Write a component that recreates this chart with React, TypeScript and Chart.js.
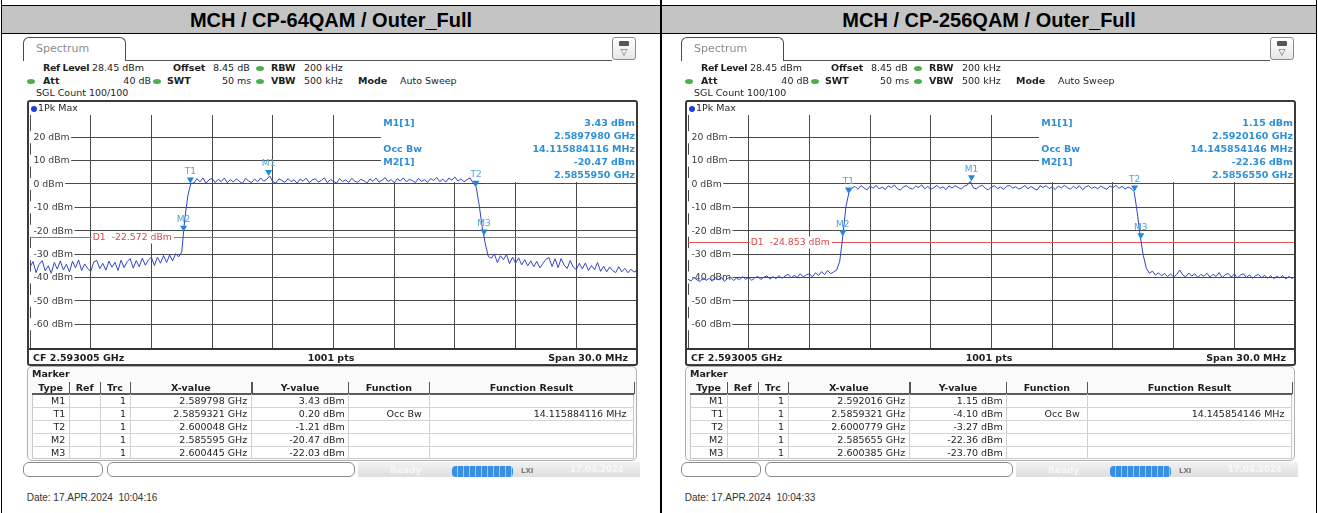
import React, { useEffect, useRef } from 'react';
import { Chart, registerables } from 'chart.js';

Chart.register(...registerables);

const UI_FONT = '"DejaVu Sans", Verdana, sans-serif';
const DOC_FONT = '"Liberation Sans", Arial, sans-serif';

const FREQ_START_MHZ = 2578.005;
const FREQ_STEP_MHZ = 0.15;
const SPAN_MHZ = 30;
const X_DIVISIONS = 10;
const Y_TICKS = [20, 10, 0, -10, -20, -30, -40, -50, -60];
const Y_MAX = 29.5;
const Y_MIN = -70.6;

const panelTitles = ['MCH / CP-64QAM / Outer_Full', 'MCH / CP-256QAM / Outer_Full'];
const panelDates = ['Date: 17.APR.2024  10:04:16', 'Date: 17.APR.2024  10:04:33'];
const markerNames = ['M1', 'T1', 'T2', 'M2', 'M3'];
const markerFreqGHz64 = [2.589798, 2.5859321, 2.600048, 2.585595, 2.600445];
const markerLevel64 = [3.43, 0.2, -1.21, -20.47, -22.03];
const markerFreqGHz256 = [2.592016, 2.5859321, 2.6000779, 2.585655, 2.600385];
const markerLevel256 = [1.15, -4.1, -3.27, -22.36, -23.7];
const displayLine64 = -22.572;
const displayLine256 = -24.853;
const occBw64 = '14.115884116';
const occBw256 = '14.145854146';

// Trace levels (dBm), one value every 0.15 MHz from 2.578005 GHz
const trace64 = [
  -35.5, -33.2, -37.9, -34.4, -32.8, -37.1, -35.0, -38.2, -33.6, -36.4,
  -32.9, -36.8, -34.3, -37.6, -33.1, -35.9, -32.5, -37.0, -34.2, -36.1,
  -37.5, -33.4, -32.7, -36.2, -34.0, -36.9, -33.0, -35.6, -33.5, -37.0,
  -32.6, -35.8, -33.3, -31.9, -36.0, -32.8, -35.4, -31.7, -34.8, -32.5,
  -31.4, -34.9, -31.3, -33.9, -30.6, -33.6, -30.4, -32.9, -29.8, -31.2,
  -29.0, -15.0, -5.0, 0.2,
  0.4, 2.3, 0.9, 2.6, 0.3, 1.8, 2.4, 0.6, 2.0, 1.0,
  2.5, 0.5, 1.9, 0.8, 2.2, 1.1, 0.2, 2.4, 1.3, 0.6,
  2.1, 0.9, 2.6, 1.2, 2.0, 3.43, 1.0, 0.4, 2.2, 1.5,
  0.7, 2.3, 1.0, 1.8, 0.3, 2.1, 1.2, 2.5, 0.6, 1.7,
  2.2, 0.8, 1.5, 2.6, 0.5, 1.9, 1.1, 0.4, 2.3, 1.0,
  1.8, 0.6, 2.4, 1.2, 0.7, 2.0, 1.4, 0.3, 2.2, 1.1,
  2.5, 0.8, 1.6, 2.7, 1.0, 1.9, 0.5, 2.2, 1.3, 2.6,
  0.9, 2.0, 1.4, 0.6, 2.4, 1.1, 1.8, 0.7, 2.3, 1.5,
  2.8, 1.0, 2.1, 0.8, 2.5, 1.6, 3.0, 1.2, 2.2, 0.9,
  1.9, 2.6, 0.4,
  -1.21, -9.0, -18.5, -25.5, -31.0,
  -31.8, -29.9, -33.6, -30.7, -32.4, -30.2, -34.1, -31.3, -33.9, -31.6,
  -34.6, -32.4, -35.0, -32.9, -35.4, -33.1, -35.9, -34.0, -32.2, -31.5,
  -35.3, -32.0, -35.8, -31.9, -34.7, -36.2, -32.7, -35.6, -36.6, -33.9,
  -36.3, -33.8, -37.0, -34.9, -36.7, -33.6, -37.4, -35.2, -37.6, -35.5,
  -37.1, -37.9, -35.4, -37.6, -36.1, -38.0, -36.5, -37.7, -37.0,
];

const trace256 = [
  -40.8, -41.5, -40.0, -41.1, -41.7, -40.2, -41.2, -40.4, -41.6, -40.1,
  -41.0, -39.9, -41.6, -40.5, -39.8, -41.3, -40.3, -41.0, -39.6, -40.8,
  -40.0, -41.2, -40.2, -39.5, -40.9, -39.9, -39.3, -40.7, -39.6, -40.5,
  -39.2, -40.4, -39.4, -38.6, -40.2, -39.1, -40.0, -38.4, -39.8, -38.8,
  -38.5, -39.7, -38.0, -39.2, -37.5, -38.8, -37.0, -38.4, -37.6, -36.8,
  -33.0, -22.4, -10.0, -3.8,
  -1.8, -1.0, -2.3, -0.7, -1.7, -2.5, -0.9, -1.8, -0.6, -2.1,
  -1.3, -2.4, -0.8, -1.6, -0.5, -2.0, -2.6, -1.2, -0.7, -1.8,
  -2.2, -0.9, -1.5, -0.4, -2.1, -1.0, -2.3, -1.6, -0.6, -1.9,
  -1.2, -2.4, -0.8, -1.7, -0.7, -1.5, -2.2, -1.0, -0.5, 1.15,
  -1.6, -2.1, -1.0, -0.6, -1.9, -2.5, -1.2, -0.8, -2.0, -1.3,
  -2.3, -0.9, -0.7, -1.8, -1.2, -2.2, -1.6, -0.6, -2.1, -1.1,
  -1.9, -2.6, -0.8, -1.5, -0.7, -2.0, -1.2, -2.4, -0.9, -1.7,
  -0.6, -1.6, -2.2, -1.0, -1.9, -0.8, -2.5, -1.3, -0.7, -2.0,
  -1.2, -2.1, -0.9, -1.7, -2.3, -0.8, -1.6, -0.6, -1.9, -1.0,
  -2.2, -1.3, -2.0,
  -3.27, -12.0, -22.5, -30.5, -36.0,
  -38.2, -37.3, -39.0, -38.0, -39.3, -38.3, -39.6, -38.5, -39.8, -38.8,
  -36.8, -38.9, -39.7, -38.1, -39.4, -38.4, -40.0, -38.7, -39.5, -38.2,
  -39.9, -38.6, -39.6, -37.9, -40.1, -38.8, -38.3, -39.8, -38.5, -40.2,
  -39.0, -38.4, -40.0, -38.9, -40.4, -39.2, -38.7, -40.1, -39.1, -40.3,
  -39.3, -40.5, -39.5, -40.2, -39.2, -40.6, -39.6, -40.4, -39.7,
];

const GRID_COLOR = '#4a4a4a';
const TRACE_COLOR = '#3343c8';
const INFO_BLUE = '#2f8fd6';
const MARKER_BLUE = '#1f8ad4';
const MARKER_LABEL = '#4aa6dd';
const D1_RED = '#e05555';

type TxtProps = {
  x: number;
  y: number;
  text: string;
  bold?: boolean;
  align?: 'left' | 'right' | 'center';
  size?: number;
  color?: string;
  font?: string;
  spacing?: number;
};

function Txt({ x, y, text, bold, align = 'left', size = 9.5, color = '#1e1e1e', font = UI_FONT, spacing = 0 }: TxtProps) {
  const w = 400;
  const left = align === 'left' ? x : align === 'right' ? x - w : x - w / 2;
  return (
    <div
      style={{
        position: 'absolute',
        left,
        top: y - 8,
        width: w,
        height: 16,
        lineHeight: '16px',
        textAlign: align,
        fontFamily: font,
        fontSize: size,
        fontWeight: bold ? 700 : 400,
        letterSpacing: spacing,
        color,
        whiteSpace: 'pre',
      }}
    >
      {text}
    </div>
  );
}

function Box({ x, y, w, h, style }: { x: number; y: number; w: number; h: number; style?: React.CSSProperties }) {
  return <div style={{ position: 'absolute', left: x, top: y, width: w, height: h, boxSizing: 'border-box', ...style }} />;
}

type ChartProps = {
  left: number;
  top: number;
  width: number;
  height: number;
  trace: number[];
  mFreq: number[];
  mLevel: number[];
  d1: number;
  occBw: string;
};

function SpectrumChart({ left, top, width, height, trace, mFreq, mLevel, d1, occBw }: ChartProps) {
  const ref = useRef<HTMLCanvasElement>(null);
  useEffect(() => {
    const canvas = ref.current;
    if (!canvas) return;
    const data = trace.map((v, i) => ({ x: FREQ_START_MHZ + i * FREQ_STEP_MHZ, y: v }));
    const xTicks = Array.from({ length: X_DIVISIONS + 1 }, (_, k) => FREQ_START_MHZ + (k * SPAN_MHZ) / X_DIVISIONS);
    const overlay = {
      id: 'overlay',
      beforeDatasetsDraw(chart: any) {
        const { ctx, chartArea: a, scales } = chart;
        const xs = scales.x;
        const ys = scales.y;
        ctx.save();
        ctx.fillStyle = '#ffffff';
        ctx.fillRect(a.left + 351, a.top, a.right - a.left - 351, 67);
        ctx.font = `9.3px ${UI_FONT}`;
        ctx.textBaseline = 'middle';
        ctx.textAlign = 'left';
        for (const v of Y_TICKS) {
          const py = ys.getPixelForValue(v);
          const label = `${v} dBm`;
          const w = ctx.measureText(label).width;
          ctx.fillStyle = '#ffffff';
          ctx.fillRect(a.left, py - 6, w + 5, 12);
          ctx.fillStyle = '#3a3a3a';
          ctx.fillText(label, a.left + 3.5, py + 0.5);
        }
        const pd = Math.round(ys.getPixelForValue(d1)) + 0.5;
        ctx.strokeStyle = D1_RED;
        ctx.lineWidth = 1;
        ctx.beginPath();
        ctx.moveTo(a.left, pd);
        ctx.lineTo(a.right, pd);
        ctx.stroke();
        const dl = `D1  ${d1.toFixed(3)} dBm`;
        const lx = xs.getPixelForValue(xTicks[1]) + 1;
        const dw = ctx.measureText(dl).width;
        ctx.fillStyle = '#ffffff';
        ctx.fillRect(lx, pd - 6, dw + 3, 12);
        ctx.fillStyle = '#d84a4a';
        ctx.fillText(dl, lx + 1, pd);
        ctx.font = `bold 9.5px ${UI_FONT}`;
        ctx.fillStyle = INFO_BLUE;
        const rows: [string, string][] = [
          ['M1[1]', `${mLevel[0].toFixed(2)} dBm`],
          ['', `${mFreq[0].toFixed(7)} GHz`],
          ['Occ Bw', `${occBw} MHz`],
          ['M2[1]', `${mLevel[3].toFixed(2)} dBm`],
          ['', `${mFreq[3].toFixed(7)} GHz`],
        ];
        rows.forEach(([l, r], k) => {
          const py = a.top + 8.5 + k * 13;
          ctx.textAlign = 'left';
          ctx.fillText(l, a.left + 353.3, py);
          ctx.textAlign = 'right';
          ctx.fillText(r, a.right - 2, py);
        });
        ctx.restore();
      },
      afterDatasetsDraw(chart: any) {
        const { ctx, scales } = chart;
        const xs = scales.x;
        const ys = scales.y;
        ctx.save();
        ctx.font = `9px ${UI_FONT}`;
        ctx.textAlign = 'center';
        ctx.textBaseline = 'middle';
        markerNames.forEach((name, k) => {
          const px = xs.getPixelForValue(mFreq[k] * 1000);
          const py = ys.getPixelForValue(mLevel[k]);
          ctx.fillStyle = MARKER_BLUE;
          ctx.beginPath();
          ctx.moveTo(px - 3.5, py - 6);
          ctx.lineTo(px + 3.5, py - 6);
          ctx.lineTo(px, py);
          ctx.closePath();
          ctx.fill();
          ctx.fillStyle = MARKER_LABEL;
          ctx.fillText(name, px, py - 12);
        });
        ctx.restore();
      },
    };
    const chart = new Chart(canvas, {
      type: 'line',
      data: {
        datasets: [
          {
            data,
            borderColor: TRACE_COLOR,
            borderWidth: 1,
            pointRadius: 0,
            tension: 0,
            fill: false,
          },
        ],
      },
      options: {
        animation: false,
        responsive: false,
        devicePixelRatio: 1,
        events: [],
        layout: { padding: 0, autoPadding: false },
        plugins: { legend: { display: false }, tooltip: { enabled: false } },
        scales: {
          x: {
            type: 'linear',
            min: FREQ_START_MHZ,
            max: FREQ_START_MHZ + SPAN_MHZ,
            afterBuildTicks: (s: any) => {
              s.ticks = xTicks.map((v) => ({ value: v }));
            },
            ticks: { display: false },
            grid: { color: GRID_COLOR, lineWidth: 1, drawTicks: false },
            border: { display: false },
          },
          y: {
            type: 'linear',
            min: Y_MIN,
            max: Y_MAX,
            afterBuildTicks: (s: any) => {
              s.ticks = Y_TICKS.map((v) => ({ value: v }));
            },
            ticks: { display: false },
            grid: { color: GRID_COLOR, lineWidth: 1, drawTicks: false },
            border: { display: false },
          },
        },
      },
      plugins: [overlay],
    } as any);
    return () => chart.destroy();
  }, []);
  return (
    <canvas
      ref={ref}
      width={width}
      height={height}
      style={{ position: 'absolute', left, top, width, height, display: 'block' }}
    />
  );
}

const COL_EDGES = [32, 69.3, 100, 130, 251.7, 348.3, 429.3, 634];
const COL_HEADERS = ['Type', 'Ref', 'Trc', 'X-value', 'Y-value', 'Function', 'Function Result'];
const COL_PADS = [4, 4, 4, 4.5, 3.5, 7.5, 7.5];

type PanelProps = {
  ox: number;
  title: string;
  date: string;
  trace: number[];
  mFreq: number[];
  mLevel: number[];
  d1: number;
  occBw: string;
};

function GreenDot({ x, y }: { x: number; y: number }) {
  return (
    <div
      style={{
        position: 'absolute',
        left: x - 4,
        top: y - 2.5,
        width: 8,
        height: 5,
        borderRadius: '50%',
        background: '#4cae4f',
      }}
    />
  );
}

function Panel({ ox, title, date, trace, mFreq, mLevel, d1, occBw }: PanelProps) {
  const X = (v: number) => ox + v;
  const rows = markerNames.map((n, k) => [
    n,
    '',
    '1',
    `${mFreq[k]} GHz`,
    `${mLevel[k].toFixed(2)} dBm`,
    n === 'T1' ? 'Occ Bw' : '',
    n === 'T1' ? `${occBw} MHz` : '',
  ]);
  return (
    <>
      <Txt x={X(331)} y={19.5} text={title} bold align="center" size={20} color="#000" font={DOC_FONT} />

      <Box
        x={X(23)}
        y={37}
        w={103}
        h={24}
        style={{ border: '1.5px solid #4a4a4a', borderBottom: 'none', borderRadius: '6px 6px 0 0', background: '#fff' }}
      />
      <Txt x={X(36)} y={49} text="Spectrum" size={11} color="#8c8c8c" />
      <Box x={X(125)} y={60} w={487} h={1} style={{ background: '#555' }} />
      <Box
        x={X(612)}
        y={37}
        w={24}
        h={23}
        style={{ border: '1px solid #8a8a8a', borderRadius: 3, background: 'linear-gradient(#ffffff,#e6e6e6)' }}
      />
      <Box x={X(619)} y={41} w={10} h={5} style={{ background: '#555', borderRadius: 1 }} />
      <Txt x={X(624)} y={52} text="▽" size={9} color="#555" align="center" />

      <Txt x={X(43)} y={68} text="Ref Level" bold spacing={-0.4} />
      <Txt x={X(92)} y={68} text="28.45 dBm" />
      <Txt x={X(173)} y={68} text="Offset" bold />
      <Txt x={X(213)} y={68} text="8.45 dB" />
      <GreenDot x={X(260)} y={68.5} />
      <Txt x={X(271)} y={68} text="RBW" bold />
      <Txt x={X(304)} y={68} text="200 kHz" />

      <GreenDot x={X(31)} y={81} />
      <Txt x={X(43)} y={80.7} text="Att" bold />
      <Txt x={X(151)} y={80.7} text="40 dB" align="right" />
      <GreenDot x={X(157)} y={81} />
      <Txt x={X(167)} y={80.7} text="SWT" bold />
      <Txt x={X(222)} y={80.7} text="50 ms" />
      <GreenDot x={X(260)} y={81} />
      <Txt x={X(271)} y={80.7} text="VBW" bold />
      <Txt x={X(304)} y={80.7} text="500 kHz" />
      <Txt x={X(358)} y={80.7} text="Mode" bold />
      <Txt x={X(400)} y={80.7} text="Auto Sweep" />

      <Txt x={X(36)} y={93.3} text="SGL Count 100/100" />

      <SpectrumChart
        left={X(30)}
        top={115}
        width={607}
        height={234}
        trace={trace}
        mFreq={mFreq}
        mLevel={mLevel}
        d1={d1}
        occBw={occBw}
      />
      <Box x={X(27)} y={100} w={611} h={266} style={{ border: '2px solid #3b3b3b', borderRadius: 3 }} />
      <div
        style={{
          position: 'absolute',
          left: X(30.5),
          top: 105.5,
          width: 6,
          height: 6,
          borderRadius: '50%',
          background: '#1f3fd6',
        }}
      />
      <Txt x={X(38)} y={108.3} text="1Pk Max" />
      <Box x={X(29)} y={348} w={607} h={1.5} style={{ background: '#333' }} />
      <Txt x={X(33)} y={357.5} text="CF 2.593005 GHz" bold />
      <Txt x={X(331)} y={357.5} text="1001 pts" bold align="center" />
      <Txt x={X(628)} y={357.5} text="Span 30.0 MHz" bold align="right" />

      <Box x={X(27)} y={366} w={610} h={95} style={{ border: '1px solid #b0b0b0', borderRadius: 5, background: '#fafafa' }} />
      <Txt x={X(32)} y={374} text="Marker" bold />
      <Box x={X(COL_EDGES[0])} y={394} w={COL_EDGES[7] - COL_EDGES[0]} h={65} style={{ background: '#fff', border: '1px solid #c8c8c8' }} />
      {COL_HEADERS.map((h, c) => (
        <Txt key={h} x={X((COL_EDGES[c] + COL_EDGES[c + 1]) / 2)} y={388} text={h} bold align="center" />
      ))}
      {COL_EDGES.slice(1).map((e, c) => (
        <Box key={`hs${c}`} x={X(e - 0.5)} y={382} w={1.5} h={12} style={{ background: '#555' }} />
      ))}
      <Box x={X(COL_EDGES[0])} y={392.5} w={COL_EDGES[7] - COL_EDGES[0]} h={2} style={{ background: '#5a5a5a' }} />
      {COL_EDGES.slice(1, 7).map((e, c) => (
        <Box key={`rs${c}`} x={X(e - 0.5)} y={394} w={1} h={65} style={{ background: '#cfcfcf' }} />
      ))}
      {rows.map((r, k) => (
        <React.Fragment key={`row${k}`}>
          {k < 4 && <Box x={X(COL_EDGES[0])} y={406.5 + k * 13} w={COL_EDGES[7] - COL_EDGES[0]} h={1} style={{ background: '#d4d4d4' }} />}
          {r.map((cell, c) =>
            cell ? (
              <Txt key={`c${k}${c}`} x={X(COL_EDGES[c + 1] - COL_PADS[c])} y={401 + k * 13} text={cell} align="right" />
            ) : null
          )}
        </React.Fragment>
      ))}

      <Box x={X(23)} y={462} w={80} h={15} style={{ border: '1px solid #8a8a8a', borderRadius: 6, background: '#fff' }} />
      <Box x={X(107)} y={462} w={248} h={15} style={{ border: '1px solid #8a8a8a', borderRadius: 6, background: '#fff' }} />
      <Box x={X(358)} y={462} w={282} h={15} style={{ background: 'linear-gradient(#f2f2f2,#dedede)' }} />
      <Txt x={X(390)} y={469.5} text="Ready" bold size={9} color="#f7f7f7" />
      <Box
        x={X(452)}
        y={465.5}
        w={61}
        h={11}
        style={{
          borderRadius: 4,
          background: 'repeating-linear-gradient(90deg,#3a8fe3 0px,#3a8fe3 5px,#9cc8f2 5px,#9cc8f2 6px)',
        }}
      />
      <Txt x={X(521)} y={470.5} text="LXI" bold size={7} color="#7a7a7a" />
      <Txt x={X(570)} y={468.5} text="17.04.2024" bold size={8.5} color="#f7f7f7" />

      <Txt x={X(26.7)} y={497.7} text={date} size={10} color="#333" font={DOC_FONT} />
    </>
  );
}

export default function App() {
  return (
    <div
      style={{
        position: 'absolute',
        left: 0,
        top: 0,
        width: 1318,
        height: 513,
        background: '#fff',
        overflow: 'hidden',
      }}
    >
      <Box x={2} y={6} w={1314} h={27} style={{ background: '#c4c4c4' }} />
      <Box x={1} y={5} w={1316} h={1} style={{ background: '#000' }} />
      <Box x={1} y={33} w={1316} h={1} style={{ background: '#000' }} />
      <Box x={1} y={0} w={1} h={513} style={{ background: '#000' }} />
      <Box x={660} y={0} w={1.5} h={513} style={{ background: '#000' }} />
      <Box x={1316} y={0} w={1} h={513} style={{ background: '#000' }} />
      <Panel
        ox={0}
        title={panelTitles[0]}
        date={panelDates[0]}
        trace={trace64}
        mFreq={markerFreqGHz64}
        mLevel={markerLevel64}
        d1={displayLine64}
        occBw={occBw64}
      />
      <Panel
        ox={658}
        title={panelTitles[1]}
        date={panelDates[1]}
        trace={trace256}
        mFreq={markerFreqGHz256}
        mLevel={markerLevel256}
        d1={displayLine256}
        occBw={occBw256}
      />
    </div>
  );
}
